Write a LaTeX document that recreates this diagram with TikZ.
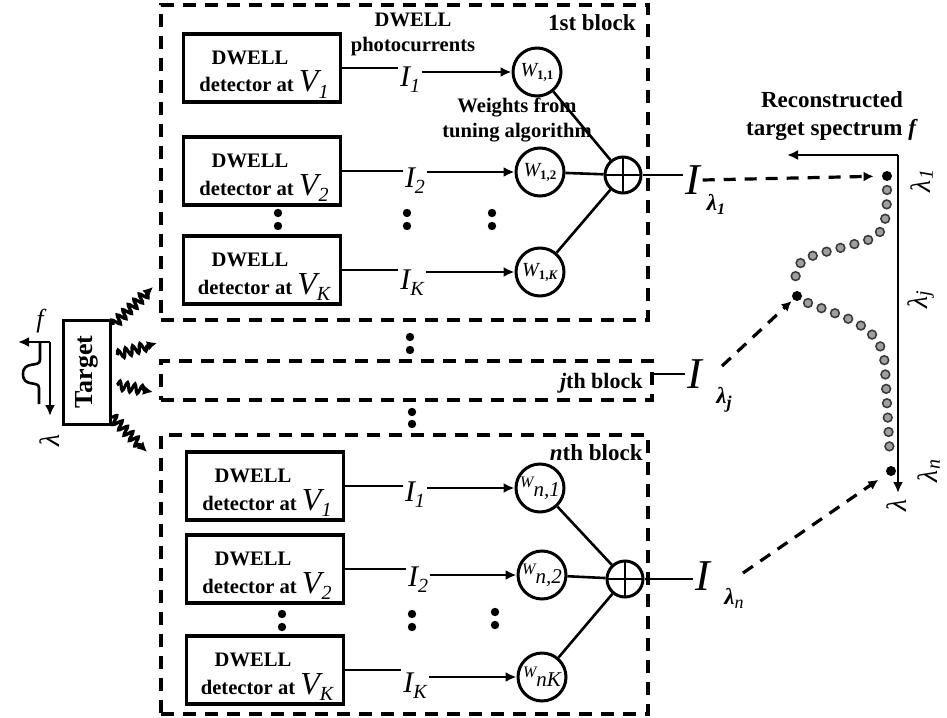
\documentclass[tikz,border=0pt]{standalone}
\usepackage{fontspec}
\setmainfont{Liberation Serif}
\usetikzlibrary{arrows.meta,decorations.pathmorphing,calc}
\newcommand{\lowsub}[2][3pt]{\raisebox{-#1}{\fontsize{10}{10}\selectfont\mdseries\itshape #2}}
\newcommand{\Vsym}{{\fontsize{16}{16}\selectfont\mdseries\itshape V}}
\newcommand{\wlabone}[1]{{\fontsize{10}{10}\selectfont\itshape W}\raisebox{-1.5pt}{\fontsize{6.5}{6.5}\selectfont\bfseries #1}}
\newcommand{\wlabn}[1]{\raisebox{2pt}{\fontsize{8}{8}\selectfont\itshape W}\raisebox{-2.5pt}{\fontsize{10.5}{10.5}\selectfont\itshape #1}}
\newcommand{\detbox}[3]{%
  \node[det] (#1) at #2 {};
  \node[dwtxt] (#1a) at ($(#1.center)+(-12,-10)$) {DWELL};
  \node[dwtxt, anchor=base] (#1b) at ($(#1.center)+(2,24)$) {detector at \Vsym\lowsub[3pt]{#3}};
}
\begin{document}
\begin{tikzpicture}[x=0.5pt, y=-0.5pt,
 blk/.style={draw, line width=1.9pt, dash pattern=on 6.5pt off 4.5pt, inner sep=0pt},
 det/.style={draw, line width=1.6pt, minimum width=78.5pt, minimum height=34pt, inner sep=0pt},
 dwtxt/.style={inner sep=0pt, font=\fontsize{10.3}{12}\selectfont\bfseries},
 lbl/.style={inner sep=0pt, align=center, font=\fontsize{10.3}{12.5}\selectfont\bfseries},
 ilab/.style={inner sep=1pt, font=\fontsize{15}{15}\selectfont\itshape},
 wt/.style={draw, circle, line width=1.5pt, minimum size=24pt, inner sep=0pt},
 sumc/.style={draw, circle, line width=1.5pt, minimum size=18pt, inner sep=0pt,
   path picture={\draw[line width=1pt] (path picture bounding box.north) -- (path picture bounding box.south)
     (path picture bounding box.west) -- (path picture bounding box.east);}},
 ln/.style={line width=1.3pt},
 arr/.style={line width=1.3pt, -{Latex[length=5.5pt,width=5pt]}},
 ilam/.style={inner sep=1pt, font=\fontsize{22}{22}\selectfont\itshape},
 lsub/.style={inner sep=0pt, font=\fontsize{11.5}{11.5}\selectfont\bfseries\itshape},
 dsh/.style={line width=1.6pt, dash pattern=on 6pt off 4.5pt, -{Latex[length=5pt,width=5pt]}},
 bdot/.style={circle, fill=black, minimum size=5pt, inner sep=0pt},
 axarr/.style={line width=1.4pt, -{Latex[length=5.5pt,width=5pt]}},
 rlam/.style={rotate=90, inner sep=0pt, font=\fontsize{14}{14}\selectfont\itshape},
 wav/.style={line width=1.6pt, decorate, decoration={snake, amplitude=2.2pt, segment length=3.8pt, post length=3.5pt}, -{Latex[length=5pt,width=5pt]}},
 tgt/.style={draw, rotate=90, line width=1.5pt, minimum width=52pt, minimum height=23.5pt, inner sep=0pt, font=\fontsize{13}{13}\selectfont\bfseries},
 specdots/.style={line cap=round, dash pattern=on 0pt off 7.2pt}
]
\useasboundingbox (0,0) rectangle (947,717);

% blocks
\node[blk, minimum width=243.5pt, minimum height=157.5pt] (blk1) at (404.5,162.5) {};
\node[blk, minimum width=245.5pt, minimum height=19.5pt] (blkj) at (406.5,380.5) {};
\node[blk, minimum width=243.5pt, minimum height=139.5pt] (blkn) at (404.5,574.5) {};

% labels
\node[lbl] (phc) at (413,34) {DWELL\\photocurrents};
\node[lbl, anchor=east, font=\fontsize{11.5}{12}\selectfont\bfseries] (b1t) at (636,23) {1st block};
\node[lbl] (wft) at (517,120) {Weights from\\tuning algorithm};
\node[lbl, anchor=east, font=\fontsize{11}{12}\selectfont\bfseries] (bjt) at (643,383) {\textit{j}th block};
\node[lbl, anchor=east, font=\fontsize{11.5}{12}\selectfont\bfseries] (bnt) at (643,453) {\textit{n}th block};
\node[lbl, font=\fontsize{11.5}{14}\selectfont\bfseries] (rec) at (832,116) {Reconstructed\\target spectrum \textit{f}};

% 1st block
\detbox{b11}{(262,68)}{1}
\detbox{b12}{(262,171)}{2}
\detbox{b1K}{(262,270)}{K}
\node[ilab] (i11) at (410,80) {I\lowsub{1}};
\node[ilab] (i12) at (415,181) {I\lowsub{2}};
\node[ilab] (i1K) at (412,283) {I\lowsub{K}};
\node[wt] (w11) at (537,72) {\wlabone{1,1}};
\node[wt] (w12) at (540,172) {\wlabone{1,2}};
\node[wt] (w1K) at (540,272) {\wlabone{1,\textit{K}}};
\node[sumc] (s1) at (623,175) {};
\foreach \b in {11,12,1K}{
  \draw[ln] (b\b.east) -- (b\b.east -| i\b.west);
  \draw[arr] (i\b.east |- w\b) -- (w\b);
  \draw[ln] (w\b) -- (s1);
}

% nth block
\detbox{bn1}{(265,486)}{1}
\detbox{bn2}{(265,569)}{2}
\detbox{bnK}{(265,670)}{K}
\node[ilab] (in1) at (415,495) {I\lowsub{1}};
\node[ilab] (in2) at (418,580) {I\lowsub{2}};
\node[ilab] (inK) at (415,686) {I\lowsub{K}};
\node[wt] (wn1) at (540,488) {\wlabn{n,1}};
\node[wt] (wn2) at (542,575) {\wlabn{n,2}};
\node[wt] (wnK) at (542,677) {\wlabn{nK}};
\node[sumc] (sn) at (625,579) {};
\foreach \b in {n1,n2,nK}{
  \draw[ln] (b\b.east) -- (b\b.east -| i\b.west);
  \draw[arr] (i\b.east |- w\b) -- (w\b);
  \draw[ln] (w\b) -- (sn);
}

% vertical ellipsis dots
\foreach \p in {(278,213),(278,226),(407,213),(407,226),(492,213),(492,226),
                (282,614),(282,627),(412,614),(412,627),(495,612),(495,625),
                (410,337),(410,350),(412,412),(412,424)}
  \fill \p circle (2.1pt);

% outputs
\node[ilam] (il1) at (693,180) {I};
\node[lsub] (il1s) at (716,204) {λ\raisebox{-2pt}{\fontsize{8}{8}\selectfont 1}};
\node[ilam] (ilj) at (695,374) {I};
\node[lsub] (iljs) at (724,400) {λ\raisebox{-2.5pt}{\fontsize{9}{9}\selectfont j}};
\node[ilam] (iln) at (703,576) {I};
\node[lsub] (ilns) at (734,598) {λ\raisebox{-2pt}{\fontsize{9}{9}\selectfont\mdseries n}};
\draw[ln] (s1.east) -- (s1.east -| il1.west);
\draw[ln] (blkj.east |- ilj) -- (ilj.west);
\draw[ln] (sn.east) -- (sn.east -| iln.west);

% reconstructed spectrum axes
\coordinate (ax0) at (898,155);
\coordinate (axf) at (787,155);
\coordinate (axl) at (898,493);
\draw[axarr] (ax0) -- (axf);
\draw[axarr] (ax0) -- (axl);
\node[rlam] (lab1) at (922,181) {λ\lowsub[1pt]{1}};
\node[rlam] (labj) at (921,300) {λ\lowsub[1pt]{j}};
\node[rlam] (labn) at (929,471) {λ\lowsub[1pt]{n}};
\node[rlam] (labl) at (897,505) {λ};

% black dots and dashed arrows
\node[bdot] (d1) at (887,176) {};
\node[bdot] (dj) at (797,296) {};
\node[bdot] (dn) at (891,471) {};
\coordinate (cj) at (722,366);
\coordinate (cn) at (743,573);
\draw[dsh, shorten >=4pt] (il1.east) -- (d1);
\draw[dsh, shorten >=1pt] (cj) -- (dj);
\draw[dsh, shorten >=5pt] (cn) -- (dn);

% spectrum dots
\draw[specdots, line width=5.2pt, gray!45!black,
      postaction={draw, specdots, line width=3.4pt, gray!75}]
  (887,190) .. controls (887,230) and (882,236) .. (862,242) -- (818,254)
  .. controls (798,260) and (794,268) .. (796,282);
\draw[specdots, line width=5.2pt, gray!45!black,
      postaction={draw, specdots, line width=3.4pt, gray!75}]
  (808,303) .. controls (845,318) and (884,325) .. (885,368) -- (890,458);

% target and input spectrum
\node[tgt] (tg) at (87,372) {Target};
\coordinate (sp0) at (50,342);
\coordinate (spf) at (18,342);
\coordinate (spl) at (50,416);
\draw[axarr] (sp0) -- (spf);
\draw[axarr] (sp0) -- (spl);
\draw[line width=1.3pt] (40,343) -- (40,360) .. controls (40,368) and (23,360) .. (23,374)
  .. controls (23,388) and (39,380) .. (39,388) -- (39,404);
\node[inner sep=0pt, font=\fontsize{13}{13}\selectfont\itshape] (fl) at (40,321) {f};
\node[rlam] (ll) at (50,440) {λ};

% radiation from target
\coordinate (ws1) at (113,325); \coordinate (we1) at (153,287);
\coordinate (ws2) at (117,355); \coordinate (we2) at (157,343);
\coordinate (ws3) at (117,385); \coordinate (we3) at (153,392);
\coordinate (ws4) at (112,417); \coordinate (we4) at (147,452);
\foreach \i in {1,2,3,4} \draw[wav] (ws\i) -- (we\i);
\end{tikzpicture}
\end{document}
